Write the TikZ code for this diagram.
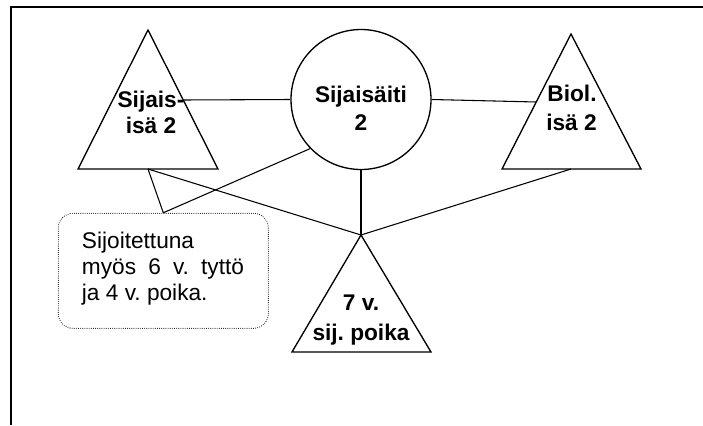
\documentclass[tikz,border=0pt]{standalone}
\usepackage{fontspec}
\setmainfont{Liberation Sans}
\frenchspacing
\begin{document}
\begin{tikzpicture}[x=0.75pt,y=-0.75pt,
  frameline/.style={line width=1.5pt},
  tri/.style={line width=1pt, line join=miter},
  conn/.style={line width=0.8pt},
  notebox/.style={draw, line width=0.8pt, line cap=round, dash pattern=on 0pt off 1.6pt, rounded corners=11pt, inner sep=0pt},
  lbl/.style={anchor=base, inner sep=0pt, font=\fontsize{17}{20}\selectfont\bfseries\frenchspacing},
  note/.style={anchor=base west, inner sep=0pt, font=\fontsize{17}{20}\selectfont\frenchspacing}]
\useasboundingbox (0,0) rectangle (703,425);
\draw[frameline] (11,425) -- (11,7) -- (703,7);

% left triangle: Sijais-isa 2
\coordinate (La) at (148,30);
\coordinate (Ll) at (78,169);
\coordinate (Lr) at (218,169);
\draw[tri] (La) -- (Ll) -- (Lr) -- cycle;
\coordinate (Lb) at (148,169);
\coordinate (Le) at (183.3,100);

% circle: Sijaisaiti 2
\node[circle, draw, tri, minimum size=105pt, inner sep=0pt] (M) at (361,99.5) {};

% right triangle: Biol. isa 2
\coordinate (Ra) at (571,34);
\coordinate (Rl) at (502,169);
\coordinate (Rr) at (641,169);
\draw[tri] (Ra) -- (Rl) -- (Rr) -- cycle;
\coordinate (Rb) at (571,169);
\coordinate (Re) at (536.2,102);

% child triangle
\coordinate (Ca) at (361,235);
\coordinate (Cl) at (292,352);
\coordinate (Cr) at (431,352);
\draw[tri] (Ca) -- (Cl) -- (Cr) -- cycle;

% note box
\node[notebox, minimum width=157.5pt, minimum height=86.25pt] (B) at (163.3,270.8) {};

% connectors
\draw[conn] (Le) -- (M.west);
\draw[conn] (M.east) -- (Re);
\draw[conn] (M.south) -- (Ca);
\draw[conn] (Lb) -- (Ca);
\draw[conn] (Rb) -- (Ca);
\draw[conn] (Lb) -- (B.north) -- (M.224);

% labels
\node[lbl] (L1) at (151,107) {Sijais-};
\node[lbl] (L2) at (151,133) {isä 2};
\node[lbl] (M1) at (361,102.7) {Sijaisäiti};
\node[lbl] (M2) at (361,130) {2};
\node[lbl] (R1) at (572,101.7) {Biol.};
\node[lbl] (R2) at (571.5,130) {isä 2};
\node[lbl] (C1) at (361,310.7) {7 v.};
\node[lbl] (C2) at (361,340) {sij. poika};
\node[note] (N1) at (81.7,248.3) {Sijoitettuna};
\node[note] (N2) at (81.7,274) {\makebox[121.5pt][s]{myös 6 v. tyttö}};
\node[note] (N3) at (81.7,300) {ja 4 v. poika.};
\end{tikzpicture}
\end{document}
